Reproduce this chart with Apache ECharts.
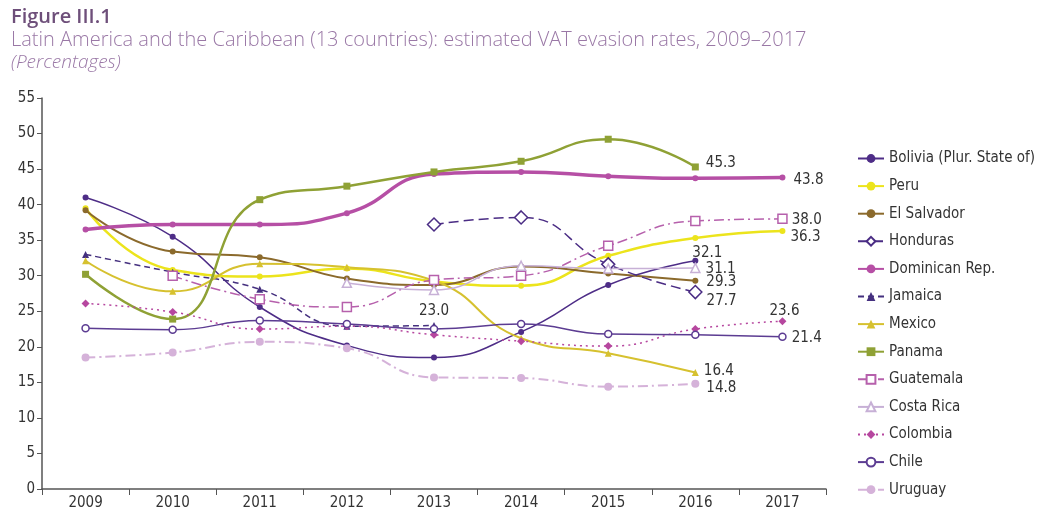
<!DOCTYPE html>
<html>
<head>
<meta charset="utf-8">
<script src="https://cdn.jsdelivr.net/npm/echarts@6/dist/echarts.min.js"></script>
<style>
html,body{margin:0;padding:0;background:#fff;}
#c{width:1038px;height:516px;}
</style>
</head>
<body>
<div id="c"></div>
<script>
const years = ['2009','2010','2011','2012','2013','2014','2015','2016','2017'];
const yTicks = [0,5,10,15,20,25,30,35,40,45,50,55];

const bolivia    = [41.0, 35.5, 25.6, 20.2, 18.5, 22.1, 28.7, 32.1, null];
const peru       = [39.5, 30.8, 29.9, 31.0, 29.2, 28.6, 32.8, 35.3, 36.3];
const elSalvador = [39.2, 33.4, 32.6, 29.6, 28.7, 31.3, 30.3, 29.3, null];
const honduras   = [null, null, null, null, 37.2, 38.2, 31.6, 27.7, null];
const dominican  = [36.5, 37.2, 37.2, 38.8, 44.3, 44.6, 44.0, 43.7, 43.8];
const jamaica    = [33.0, 30.5, 28.1, 22.9, 23.0, null, null, null, null];
const mexico     = [32.1, 27.8, 31.7, 31.2, 29.3, 21.2, 19.1, 16.4, null];
const panama     = [30.2, 23.9, 40.7, 42.6, 44.6, 46.1, 49.2, 45.3, null];
const guatemala  = [null, 30.0, 26.7, 25.6, 29.4, 30.0, 34.2, 37.7, 38.0];
const costaRica  = [null, null, null, 29.0, 28.0, 31.4, 31.0, 31.1, null];
const colombia   = [26.1, 24.9, 22.5, 22.9, 21.7, 20.8, 20.1, 22.5, 23.6];
const chile      = [22.6, 22.4, 23.7, 23.2, 22.5, 23.2, 21.8, 21.7, 21.4];
const uruguay    = [18.5, 19.2, 20.7, 19.8, 15.7, 15.6, 14.4, 14.8, null];

const FONT = "'DejaVu Sans Condensed','Liberation Sans Narrow','Roboto',sans-serif";
const TFONT = "'Open Sans','Lato','Noto Sans',sans-serif";

function lastIdx(arr){ for(let i=arr.length-1;i>=0;i--){ if(arr[i]!==null) return i; } return -1; }

const specs = [
  {name:'Bolivia (Plur. State of)', data:bolivia, color:'#4e2d87', w:1.5, dash:'solid', sym:'circle', size:6, hollow:false, lbl:{position:'top', offset:[12,8]}},
  {name:'Peru', data:peru, color:'#ece41c', w:2.5, dash:'solid', sym:'circle', size:6, hollow:false, lbl:{position:'right', offset:[0,6]}},
  {name:'El Salvador', data:elSalvador, color:'#8b6a2c', w:2, dash:'solid', sym:'circle', size:6, hollow:false, lbl:{position:'right', offset:[3,1]}},
  {name:'Honduras', data:honduras, color:'#4a2c84', w:1.5, dash:[10,5], sym:'diamond', size:13, hollow:true, lbl:{position:'right', offset:[-1,9]}},
  {name:'Dominican Rep.', data:dominican, color:'#b64fa5', w:3.5, dash:'solid', sym:'circle', size:6, hollow:false, lbl:{position:'right', offset:[3,2]}},
  {name:'Jamaica', data:jamaica, color:'#45307f', w:1.5, dash:[6,4], sym:'triangle', size:7, hollow:false, lbl:{position:'top', offset:[0,2]}},
  {name:'Mexico', data:mexico, color:'#d6c12f', w:2, dash:'solid', sym:'triangle', size:7, hollow:false, lbl:{position:'right', offset:[0,-1]}},
  {name:'Panama', data:panama, color:'#8fa135', w:2.5, dash:'solid', sym:'rect', size:7, hollow:false, lbl:{position:'right', offset:[2,-4]}},
  {name:'Guatemala', data:guatemala, color:'#b660ac', w:1.5, dash:[10,4,2,4], sym:'rect', size:9, hollow:true, lbl:{position:'right', offset:[-1,1]}},
  {name:'Costa Rica', data:costaRica, color:'#c7b0d6', w:1.5, dash:'solid', sym:'triangle', size:9, hollow:true, lbl:{position:'right', offset:[0,1]}},
  {name:'Colombia', data:colombia, color:'#b6479f', w:1.5, dash:[2,4], sym:'diamond', size:8, hollow:false, lbl:{position:'top', offset:[2,6]}},
  {name:'Chile', data:chile, color:'#5c3c92', w:1.5, dash:'solid', sym:'circle', size:7, hollow:true, lbl:{position:'right', offset:[0,1]}},
  {name:'Uruguay', data:uruguay, color:'#d5b2d9', w:2, dash:[10,4,2,4], sym:'circle', size:8, hollow:false, lbl:{position:'right', offset:[2,4]}}
];

const series = specs.map(s => {
  const li = lastIdx(s.data);
  const data = s.data.map((v,i) => {
    if (v === null) return '-';
    if (i === li) return {value:v, label:{show:true, position:s.lbl.position, offset:s.lbl.offset}};
    return v;
  });
  return {
    name: s.name,
    type: 'line',
    smooth: 0.5,
    data: data,
    symbol: s.sym,
    symbolSize: s.size,
    showAllSymbol: true,
    connectNulls: false,
    z: s.hollow ? 3 : 2,
    lineStyle: {color: s.color, width: s.w, type: s.dash},
    itemStyle: s.hollow ? {color:'#ffffff', borderColor:s.color, borderWidth:1.5} : {color:s.color, borderColor:s.color, borderWidth:0},
    label: {show:false, color:'#333', fontFamily:FONT, fontSize:15, formatter: p => Number(p.value).toFixed(1)},
    emphasis: {disabled:true},
    animation: false
  };
});

const chart = echarts.init(document.getElementById('c'), null, {renderer:'canvas'});
chart.setOption({
  backgroundColor:'#ffffff',
  animation:false,
  title:[
    {text:'Figure III.1', left:6, top:2, textStyle:{fontFamily:TFONT, fontSize:20, fontWeight:600, color:'#6e4f7a'}},
    {text:'Latin America and the Caribbean (13 countries): estimated VAT evasion rates, 2009–2017', left:6, top:25, textStyle:{fontFamily:TFONT, fontSize:20, fontWeight:300, color:'#9a78a6'}},
    {text:'(Percentages)', left:6, top:48, textStyle:{fontFamily:TFONT, fontSize:19, fontWeight:300, fontStyle:'italic', color:'#9a78a6'}}
  ],
  legend:{
    orient:'vertical', left:852, top:146, itemGap:12.6, itemWidth:26, itemHeight:11,
    textStyle:{fontFamily:FONT, fontSize:15, color:'#333'},
    data: specs.map(s=>s.name)
  },
  grid:{left:42, right:212, top:98, bottom:27, containLabel:false},
  xAxis:{
    type:'category', data:years, boundaryGap:true,
    axisLine:{lineStyle:{color:'#555', width:1.5}},
    axisTick:{show:true, alignWithLabel:false, length:6, inside:false, lineStyle:{color:'#555'}},
    axisLabel:{fontFamily:FONT, fontSize:15, color:'#333', margin:7},
    splitLine:{show:false}
  },
  yAxis:{
    type:'value', min:0, max:55, interval:5,
    axisLine:{show:true, lineStyle:{color:'#555', width:1.5}},
    axisTick:{show:true, length:5, lineStyle:{color:'#555'}},
    axisLabel:{fontFamily:FONT, fontSize:15, color:'#333', margin:7},
    splitLine:{show:false}
  },
  series: series
});
</script>
</body>
</html>
